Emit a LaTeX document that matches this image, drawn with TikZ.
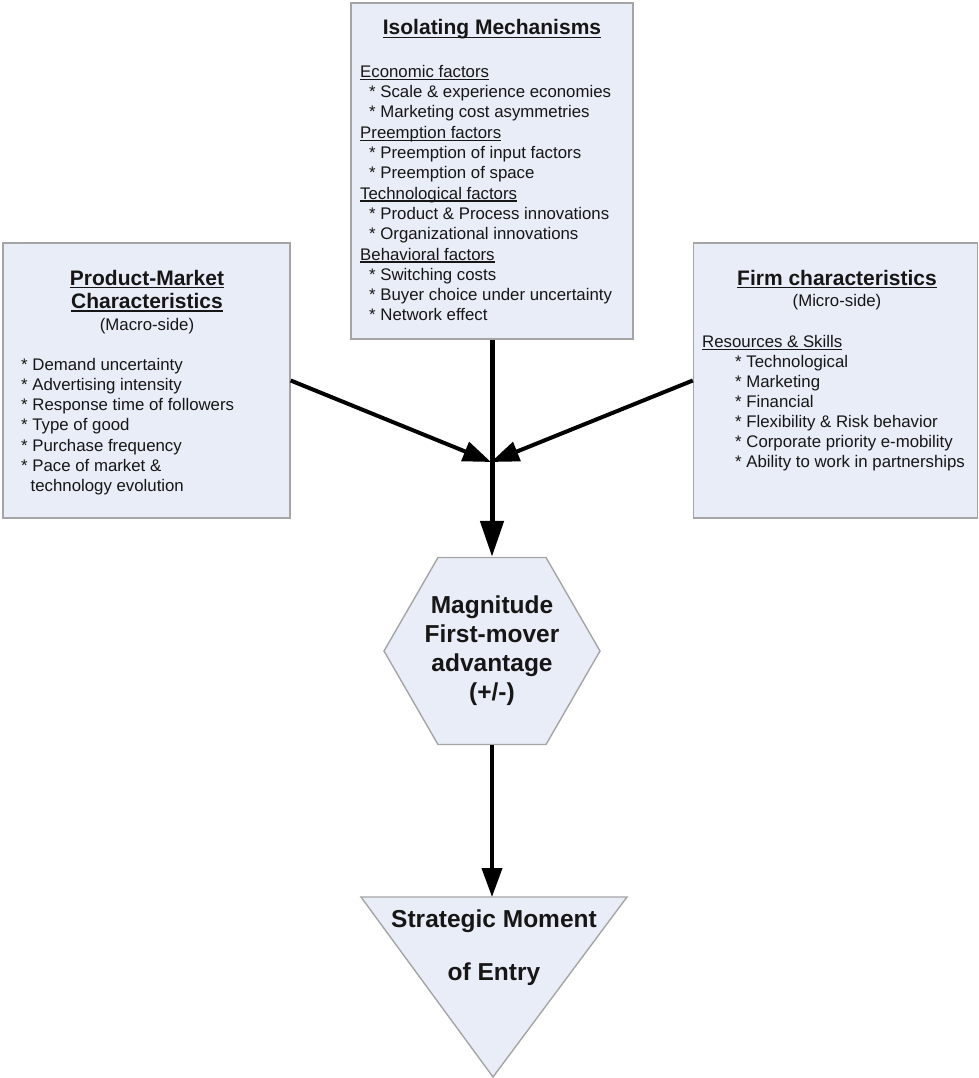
\documentclass[tikz,border=0pt]{standalone}
\usepackage{fontspec}
\setmainfont{Liberation Sans}
\usetikzlibrary{arrows.meta,shapes.geometric}

\definecolor{boxfill}{RGB}{233,237,247}
\definecolor{boxline}{RGB}{165,165,165}
\definecolor{ink}{RGB}{22,22,22}

% underline drawn a little below the baseline, cutting through descenders
\newcommand\ulbar[1]{\setbox0\hbox{#1}\rlap{\rule[-0.155em]{\wd0}{0.075em}}\box0}

\begin{document}
\begin{tikzpicture}[x=1pt,y=-1pt,
  panel/.style={draw=boxline, line width=1.4pt, fill=boxfill, inner sep=0pt},
  body/.style={font=\fontsize{16.8}{20.3}\selectfont, text=ink, inner sep=0pt, anchor=base west},
  bodyc/.style={body, anchor=base},
  headc/.style={font=\bfseries\fontsize{21}{24}\selectfont, text=ink, inner sep=0pt, anchor=base},
  bigc/.style={font=\bfseries\fontsize{24.5}{29}\selectfont, text=ink, inner sep=0pt, anchor=base},
  flow/.style={draw=black, line width=5pt, -{Triangle[length=36pt,width=23pt]}},
  feed/.style={draw=black, line width=4pt, -{Triangle[length=28pt,width=20pt]}},
  lead/.style={draw=black, line width=4pt, -{Triangle[length=29pt,width=20pt]}}]

\useasboundingbox (0,0) rectangle (979,1078);

% ---- panels ----
\node[panel, rectangle, minimum width=282pt, minimum height=336pt] (im) at (492,171) {};
\node[panel, rectangle, minimum width=287pt, minimum height=275pt] (pm) at (146.5,380.5) {};
\node[panel, rectangle, minimum width=284pt, minimum height=275pt] (fc) at (835.5,380.5) {};
\node[panel, regular polygon, regular polygon sides=6, minimum size=216pt] (hex) at (492,651) {};
\coordinate (ta) at (361,897);
\coordinate (tb) at (627,897);
\coordinate (tc) at (493,1077);
\coordinate (ttop) at (492,897);
\filldraw[draw=boxline, line width=1.4pt, fill=boxfill, line join=miter] (ta) -- (tb) -- (tc) -- cycle;

% ---- isolating mechanisms ----
\node[headc] (imt) at (492,35) {\ulbar{Isolating Mechanisms}};
\node[body] (im1)  at (360,77.3)  {\ulbar{Economic factors}};
\node[body] (im2)  at (369,97.6)  {* Scale \& experience economies};
\node[body] (im3)  at (369,117.9) {* Marketing cost asymmetries};
\node[body] (im4)  at (360,138.2) {\ulbar{Preemption factors}};
\node[body] (im5)  at (369,158.5) {* Preemption of input factors};
\node[body] (im6)  at (369,178.8) {* Preemption of space};
\node[body] (im7)  at (360,199.1) {\ulbar{Technological factors}};
\node[body] (im8)  at (369,219.4) {* Product \& Process innovations};
\node[body] (im9)  at (369,239.7) {* Organizational innovations};
\node[body] (im10) at (360,260.0) {\ulbar{Behavioral factors}};
\node[body] (im11) at (369,280.3) {* Switching costs};
\node[body] (im12) at (369,300.6) {* Buyer choice under uncertainty};
\node[body] (im13) at (369,320.9) {* Network effect};

% ---- product-market characteristics ----
\node[headc] (pmt1) at (147,285)   {\ulbar{Product-Market}};
\node[headc] (pmt2) at (147,308.5) {\ulbar{Characteristics}};
\node[bodyc] (pms)  at (147,330)   {(Macro-side)};
\node[body] (pm1) at (21,370)    {* Demand uncertainty};
\node[body] (pm2) at (21,390.3)  {* Advertising intensity};
\node[body] (pm3) at (21,410.6)  {* Response time of followers};
\node[body] (pm4) at (21,430.9)  {* Type of good};
\node[body] (pm5) at (21,451.2)  {* Purchase frequency};
\node[body] (pm6) at (21,471.5)  {* Pace of market \&};
\node[body] (pm7) at (30.5,491.8) {technology evolution};

% ---- firm characteristics ----
\node[headc] (fct) at (837,285)   {\ulbar{Firm characteristics}};
\node[bodyc] (fcs) at (837,306.7) {(Micro-side)};
\node[body] (fch) at (702,347.3) {\ulbar{Resources \& Skills}};
\node[body] (fc1) at (735,367.3) {* Technological};
\node[body] (fc2) at (735,387.3) {* Marketing};
\node[body] (fc3) at (735,407.3) {* Financial};
\node[body] (fc4) at (735,427.3) {* Flexibility \& Risk behavior};
\node[body] (fc5) at (735,447.3) {* Corporate priority e-mobility};
\node[body] (fc6) at (735,467.3) {* Ability to work in partnerships};

% ---- first-mover advantage ----
\node[bigc] (hx1) at (492,613) {Magnitude};
\node[bigc] (hx2) at (492,642) {First-mover};
\node[bigc] (hx3) at (492,671) {advantage};
\node[bigc] (hx4) at (492,700) {(+/-)};

% ---- moment of entry ----
\node[bigc] (tr1) at (494,927) {Strategic Moment};
\node[bigc] (tr2) at (494,980) {of Entry};

% ---- connectors ----
\coordinate (j) at (491,462);
\draw[feed] (pm.east) -- (j);
\draw[feed] (fc.west) -- (j);
\draw[flow] (im.south) -- (hex.north);
\draw[lead] (hex.south) -- (ttop);

\end{tikzpicture}
\end{document}
